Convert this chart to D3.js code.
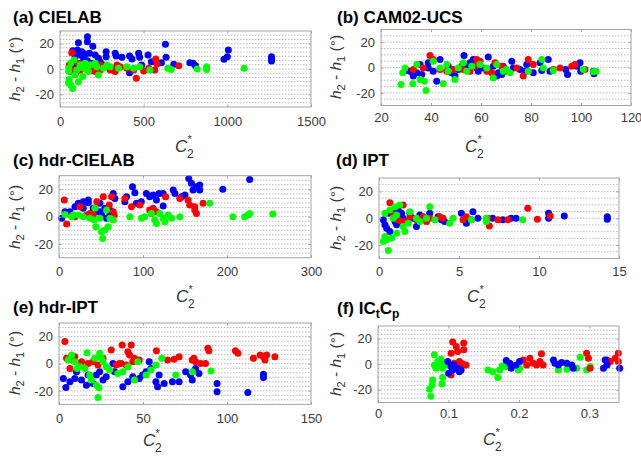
<!DOCTYPE html>
<html><head><meta charset="utf-8">
<script src="https://cdn.jsdelivr.net/npm/d3@7"></script>
<style>body{margin:0;background:#fff}svg{display:block}</style>
</head><body>
<svg id="chart" width="641" height="456"></svg>
<script>
// ---------- DATA (C2*, h2-h1) ----------
const a_blue = [[164,25.5],[164,21.6],[110,20.8],[196,18],[76,14.5],[104,15],[130,13.7],[150,11.8],[176,12.4],[120,11],[90,9.7],[140,8.4],[210,11],[230,8.4],[240,5.8],[276,13.7],[276,9.7],[330,12.4],[336,10.3],[370,9.2],[416,10.3],[430,7.9],[470,12.4],[476,9.2],[526,11],[546,5.8],[488,3.2],[606,5],[630,19.5],[634,9.2],[680,3.7],[776,5],[796,4.5],[810,2.6],[980,7.6],[1000,9.7],[1006,15],[1264,9.7],[1264,7.9],[1264,6.3],[320,0],[416,-2.9],[55,1.8],[60,3.2],[62,-2],[96,3.2],[164,6.6],[200,4.5],[260,3.2],[85,-1],[115,0.5]];
const a_red = [[70,12.9],[55,3.2],[80,-2],[120,-0.8],[160,0.5],[190,-1.3],[240,-0.8],[280,1.8],[300,-0.8],[340,3.2],[360,1.8],[400,0.5],[440,-0.8],[456,-7.4],[500,-1.6],[530,0.5],[566,-0.8],[572,7.9],[580,3.9],[710,2.6],[110,4.5],[150,1.8],[210,-2],[70,0.5],[240,3.2],[330,-2],[95,-3],[180,2]];
const a_green = [[50,-10.8],[55,-8.2],[76,-15.3],[64,-12.6],[110,-10],[136,-6],[230,-4.7],[66,5],[84,7.1],[120,3.2],[150,4.5],[180,3.2],[220,1.8],[260,0.5],[300,1.8],[350,0.5],[400,1.8],[440,0.5],[476,1.8],[536,-0.8],[644,0.5],[664,-0.3],[820,0],[876,1.8],[876,-0.3],[1100,0.5],[52,-2],[100,-0.8],[170,-2],[210,4.5],[280,3.2],[52,0.5],[90,-4.7],[156,-0.3],[130,1]];

const b_blue = [[30.3,-2.4],[32.9,-6.8],[35.6,2.4],[36.3,-5.5],[38.9,-0.3],[38.9,3.7],[43.6,6.3],[42.3,-10.8],[46.9,1],[48.3,-4.2],[49.6,-6.8],[53.2,9.5],[54.3,1],[55.6,3.7],[56.9,6.3],[58.9,-2.9],[60.9,-0.3],[62.9,8.2],[64.9,1],[66.3,-6.8],[66.9,-4.2],[69.6,-1.6],[72.3,5],[72.9,-0.3],[75.6,-1.6],[77.6,-2.9],[80.9,-4.2],[83.6,3.7],[84.3,-2.4],[86.9,6.3],[87.6,-2.9],[94.6,-5.5],[93.9,-1.6],[98.3,1],[99.6,3.7],[99.9,-2.9],[104.9,-2.9],[105.2,-5],[31.6,-2.9],[34.3,-4.2],[40.9,-2.9],[50.9,-1.6],[52.3,1],[58.3,-0.3],[62.9,-1.6],[68.3,-5.5],[68.9,1],[78.3,2.4]];
const b_red = [[39.6,9.5],[40.9,6.3],[46.3,-2.9],[48.9,-1.6],[52.9,-1.6],[57.6,1],[59.6,5],[62.3,-2.9],[65.6,3.7],[68.3,1],[70.3,-2.9],[74.3,-0.3],[76.9,-6.8],[78.9,6.3],[80.9,2.4],[88.9,-1.6],[91.6,-0.3],[96.3,1],[97.6,2.4],[101.6,-1.6],[32.9,-1.6],[36.9,-0.3],[43.6,-1.6],[55.6,-2.9],[64.3,-4.2],[58.3,6.3]];
const b_green = [[28,-13.4],[28.7,-4.2],[29.6,-0.3],[32.7,-12.9],[34.3,2.4],[35.6,-9.5],[37.3,-10.8],[38,-18.2],[40.9,5],[44.9,-12.9],[43.6,-0.3],[46.3,2.4],[49.6,-9.5],[50.9,-0.3],[54.3,-2.9],[56.3,1],[59.6,2.4],[64.9,-8.2],[66.3,2.4],[70.3,-1.6],[71.6,-4.2],[78.9,-2.9],[84.3,6.3],[84.9,-0.3],[88.9,-2.4],[100.9,-1.6],[106,-2.9],[105,-3.4],[46.9,-2.9],[52.9,3.7],[62.3,-0.3],[68.9,-2.9]];

const c_blue = [[3.2,-1.2],[7.1,3.7],[13,3.7],[19,7.3],[23,9.8],[28.9,11],[34.9,12.2],[34.9,10.2],[40.8,6.1],[45,3.7],[48.7,9.8],[50.7,1.2],[54.7,6.1],[56.6,-1.2],[60.6,4.9],[64.6,17],[66.5,13.4],[78.4,11],[80.4,14.6],[87.5,22],[90.3,17.6],[92.3,9.8],[98,11],[104,17],[108,14.6],[112,15.9],[116,12.2],[119,17],[124,7.8],[124,17],[136,19.5],[138,17],[146,14.6],[150,15.9],[154.5,28],[157.6,24.4],[159.6,19.5],[163.6,22],[167.5,23.2],[167.5,19.5],[195,20],[227,27.3],[28.9,6.1],[48.7,3.7],[60.6,1.2]];
const c_red = [[6.3,12.2],[9.1,-5.4],[25,7.3],[32.9,1.2],[45,11],[52.7,14.6],[59.8,8.5],[62.6,14.6],[64.6,3.7],[65.7,1.2],[78.4,13.4],[86.3,7.3],[96.2,8.5],[108,4.9],[112,6.1],[116,3.7],[110,2.4],[127,14.6],[143.8,13.4],[153.7,12.2],[155.6,8.5],[161.6,7.3],[161.6,4.9],[163.6,2.4],[171.5,9.8],[40.8,1.2],[19,0],[36.8,2.4]];
const c_green = [[7.1,1.7],[15,0],[23,1.2],[28.9,0],[36.8,-1.2],[41.9,-2.4],[43.9,-7.3],[48.7,-1.2],[50.7,-11],[52,-15.9],[54.7,-9.8],[58.6,-7.3],[56.6,4.9],[60.6,-1.2],[84.4,0],[98.2,-1.2],[102,0],[110,2.4],[114,-2.4],[116,-4.9],[120,2.4],[124,-1.2],[126,-3.7],[130,1.2],[134,-1.2],[143.8,0],[179.4,9.8],[207,0],[221,0],[225,1.2],[227,2.4],[254.7,2],[42.8,6.1],[17,1.2],[64.6,-2.4]];

const d_blue = [[0.27,-1.2],[0.37,-4.9],[0.48,-7.4],[0.68,-9.9],[0.58,3.7],[0.79,4.9],[1.0,-2.5],[1.1,-4.9],[1.2,6.2],[1.41,3.7],[1.51,0],[1.72,-2.5],[1.93,3.7],[2.14,0],[2.34,-6.2],[2.55,2.5],[2.76,0],[3.17,3.7],[3.69,1.2],[3.9,-1.2],[4.1,-2.5],[5.15,3.7],[5.46,-3.7],[5.77,-1.2],[5.87,4.9],[6.18,0],[7.1,0],[7.74,-1.2],[8.26,0],[8.57,0],[10.6,3.7],[10.6,0],[11.58,1.7],[14.27,1.2],[14.27,-0.7],[1.3,0],[0.9,1.2]];
const d_red = [[0.68,11.6],[0.89,2.5],[1.2,-1.2],[1.51,9.9],[1.72,-2.5],[1.93,1.2],[2.34,-1.2],[2.76,1.2],[2.97,-2.5],[3.8,1.2],[4.0,0],[5.25,-1.2],[5.46,1.2],[6.9,-5.7],[6.8,0],[7.43,-1.2],[8.05,-1.2],[9.3,7.4],[9.9,-0.7],[10.7,1.7],[1.1,0],[1.41,-2.5],[3.17,0]];
const d_green = [[0.27,-17.3],[0.37,-13.6],[0.48,-16],[0.58,-24],[0.79,-14.8],[1.1,-11.1],[1.62,-9.9],[0.37,3.7],[0.68,6.2],[1.0,8.6],[1.3,9.9],[1.1,2.5],[1.83,-3.7],[1.93,4.9],[2.34,0],[2.55,-2.5],[2.97,0],[3.17,8.6],[3.49,-1.2],[4.42,-3.7],[4.63,0],[5.77,-1.2],[6.7,0],[6.7,-2.5],[8.98,-1.2],[1.51,-6.2],[0.89,0]];

const e_red = [[3.5,16.3],[4.5,4],[6.5,-3.5],[7.5,2.7],[9.4,5.2],[13.4,1.5],[17.3,0.2],[20.3,1.5],[23.2,-1],[26.2,4],[31.1,10.1],[34.1,-1],[37,0.2],[37.6,13.8],[40,-1],[41,8.9],[42,6.4],[43,13.8],[43.9,1.5],[44.9,4],[47.8,2.7],[58,9.6],[64.6,2.7],[68.5,3.2],[71.5,5.2],[80.3,4],[81.3,1.5],[84.3,0.2],[87.2,0.2],[88.6,11.4],[89.2,9.6],[105,9.6],[106.5,7.7],[115.7,4],[119.7,6.4],[121.7,5.2],[122.6,2.7],[123.6,6.4],[128.5,5.2],[36,0.2],[79.3,2.7]];
const e_blue = [[4.1,-17.5],[6.5,-13.3],[9.4,-10.9],[10.4,-5.9],[13.4,-12.1],[16.3,-15.8],[17.3,-8.4],[20.3,-14.6],[22.2,-8.4],[24.2,-5.9],[26.2,-12.1],[28.1,-9.6],[32.1,0.2],[33.1,-5.9],[38,-17],[41,-13.3],[43.9,-9.6],[47.8,-10.9],[51.8,-5.9],[53.7,1.5],[54.7,-3.5],[57.7,-13.3],[58.7,-17],[59.6,-8.4],[62.6,-14.6],[67.5,-13.3],[71.5,-13.3],[75.4,-5.9],[78.3,-8.4],[79.3,-12.1],[81.3,-3.5],[83.3,-7.2],[94.1,-14.6],[94.1,-20.7],[112.4,-21.2],[121.7,-7.7],[121.7,-10.1],[2.6,-10.9],[49.8,-8.4]];
const e_green = [[5.5,2.7],[7.5,6.4],[9.4,1.5],[10.8,-3.5],[15.4,-3.5],[16.7,8.1],[18.3,-8.4],[19.3,-12.1],[22.2,-15.8],[23.8,-17.8],[23.2,-24.9],[24.2,7.7],[25.2,4],[26.2,1.5],[28.1,-2.2],[30.1,-4.7],[35,-7.2],[38,-5.9],[41,-2.2],[44.9,-12.1],[46.9,1.5],[51.8,-8.4],[54.7,-4.7],[57.7,-1],[61.2,4],[69.5,-8.4],[79.3,-5.9],[90.5,-5.4],[21.3,4],[12.4,-2.2]];

const f_green = [[0.075,-25],[0.073,-19.7],[0.0766,-16.3],[0.0775,-12.4],[0.08,7.4],[0.08,-0.5],[0.0846,2.1],[0.087,-1.8],[0.0894,3.9],[0.0918,-3.2],[0.0908,-15.5],[0.0918,-10.3],[0.094,0.8],[0.0965,-0.5],[0.156,-4.5],[0.163,-5.8],[0.17,-10.3],[0.1726,-4.5],[0.176,-1.3],[0.182,-1.8],[0.189,-0.5],[0.1988,-4.5],[0.201,-3.2],[0.256,-4.5],[0.268,-3.9],[0.282,-3.2],[0.287,5.5],[0.296,-4.5],[0.301,-1.8],[0.0823,-3.2]];
const f_red = [[0.106,17.4],[0.111,13.9],[0.1037,8.7],[0.113,10],[0.1217,16.6],[0.1217,11.3],[0.1037,-8.4],[0.108,0.8],[0.1155,2.1],[0.12,0.3],[0.125,-0.5],[0.206,3.4],[0.211,-0.5],[0.2154,4.7],[0.22,0.8],[0.225,-0.5],[0.2297,2.1],[0.232,8.2],[0.2344,-0.5],[0.296,8.7],[0.2986,4.7],[0.301,-3.2],[0.325,3.4],[0.3295,2.1],[0.3367,4.7],[0.341,8.7],[0.341,2.1]];
const f_blue = [[0.099,2.1],[0.1003,-7.1],[0.1037,-1.8],[0.106,-4.5],[0.108,-0.5],[0.113,-3.2],[0.118,-4.5],[0.1155,-5.8],[0.182,2.9],[0.187,0.8],[0.189,-3.2],[0.196,-0.5],[0.201,2.1],[0.249,3.4],[0.251,0.8],[0.256,-0.5],[0.2606,1.3],[0.268,0.8],[0.275,-0.5],[0.277,-3.2],[0.3224,3.4],[0.32,-3.2],[0.325,-0.5],[0.343,-3.2]];

const titles = ["(a) CIELAB","(b) CAM02-UCS","(c) hdr-CIELAB","(d) IPT","(e) hdr-IPT","(f) IC|t|C|p"];
const xTickValues = [[0,500,1000,1500],[20,40,60,80,100,120],[0,100,200,300],[0,5,10,15],[0,50,100,150],[0,0.1,0.2,0.3]];
const xTickLabels = [["0","500","1000","1500"],["20","40","60","80","100","120"],["0","100","200","300"],["0","5","10","15"],["0","50","100","150"],["0","0.1","0.2","0.3"]];
const yTickValues = [-20,0,20];
const yTickLabels = ["-20","0","20"];
const xDomains = [[0,1500],[20,120],[0,300],[0,15],[0,150],[0,0.342]];
const yDomain = [-30,30];
const seriesColors = {blue:"#0000ff", red:"#ff0000", green:"#00ff00"};

// ---------- LAYOUT ----------
const panelData = [
  {blue:a_blue, red:a_red, green:a_green, order:["blue","red","green"]},
  {blue:b_blue, red:b_red, green:b_green, order:["blue","red","green"]},
  {blue:c_blue, red:c_red, green:c_green, order:["blue","red","green"]},
  {blue:d_blue, red:d_red, green:d_green, order:["blue","red","green"]},
  {blue:e_blue, red:e_red, green:e_green, order:["blue","red","green"]},
  {blue:f_blue, red:f_red, green:f_green, order:["green","red","blue"]}
];
const layout = [
  {x0:60, x1:311, y0:31, y1:107, grid:18, tx:13, ty:23, ylx:20, yly:69, xlx:175, xly:152, tb:126},
  {x0:381, x1:631, y0:29.5, y1:105.5, grid:12, tx:337, ty:23, ylx:341, yly:67, xlx:465, xly:152, tb:122},
  {x0:59, x1:311, y0:175.7, y1:257.7, grid:18, tx:13, ty:166, ylx:20, yly:217, xlx:176, xly:302, tb:276},
  {x0:379, x1:619, y0:178, y1:258.5, grid:12, tx:336, ty:166, ylx:341, yly:218, xlx:467, xly:302, tb:276},
  {x0:59, x1:311, y0:323, y1:404.4, grid:18, tx:13, ty:313, ylx:20, yly:363, xlx:143, xly:446, tb:423},
  {x0:378, x1:619, y0:326, y1:402.5, grid:18, tx:337, ty:314, ylx:341, yly:364, xlx:483, xly:445, tb:418}
];

const FONT = "'Liberation Sans', Arial, Helvetica, sans-serif";
const svg = d3.select("#chart");
svg.append("rect").attr("width",641).attr("height",456).attr("fill","#fff");

const boxColor = "#a3a3a3", tickText = "#3a3a3a";

layout.forEach((L, i) => {
  const g = svg.append("g");
  const x = d3.scaleLinear().domain(xDomains[i]).range([L.x0, L.x1]);
  const y = d3.scaleLinear().domain(yDomain).range([L.y1, L.y0]);

  g.append("rect").attr("x",L.x0).attr("y",L.y0).attr("width",L.x1-L.x0).attr("height",L.y1-L.y0).attr("fill","#fff");

  const step = (yDomain[1]-yDomain[0]) / L.grid;
  const gv = d3.range(1, L.grid).map(k => yDomain[0] + k*step);
  g.append("g").selectAll("line").data(gv).join("line")
    .attr("x1",L.x0).attr("x2",L.x1)
    .attr("y1",d=>y(d)).attr("y2",d=>y(d))
    .attr("stroke","#b4b4b4").attr("stroke-width",0.9).attr("stroke-dasharray","1.5,1.5");

  const P = panelData[i];
  P.order.forEach(s => {
    g.append("g").selectAll("circle").data(P[s]).join("circle")
      .attr("cx",d=>x(d[0])).attr("cy",d=>y(d[1])).attr("r",3.5)
      .attr("fill",seriesColors[s]);
  });

  const tb = L.tb - L.y1 - 9.2;
  const xb = g.append("g").attr("transform",`translate(0,${L.y1})`)
    .call(d3.axisBottom(x).tickValues(xTickValues[i]).tickFormat((d,k)=>xTickLabels[i][k]).tickSize(-2.5).tickPadding(tb));
  const xt = g.append("g").attr("transform",`translate(0,${L.y0})`)
    .call(d3.axisTop(x).tickValues(xTickValues[i]).tickFormat("").tickSize(-2.5));
  const yl = g.append("g").attr("transform",`translate(${L.x0},0)`)
    .call(d3.axisLeft(y).tickValues(yTickValues).tickFormat((d,k)=>yTickLabels[k]).tickSize(-2.5).tickPadding(6));
  const yr = g.append("g").attr("transform",`translate(${L.x1},0)`)
    .call(d3.axisRight(y).tickValues(yTickValues).tickFormat("").tickSize(-2.5));
  [xb,xt,yl,yr].forEach(a => {
    a.select(".domain").remove();
    a.selectAll(".tick line").attr("stroke",boxColor);
    a.selectAll("text").attr("fill",tickText).style("font-family",FONT).style("font-size","13px");
  });

  g.append("rect").attr("x",L.x0).attr("y",L.y0).attr("width",L.x1-L.x0).attr("height",L.y1-L.y0)
    .attr("fill","none").attr("stroke",boxColor).attr("stroke-width",1);

  const t = svg.append("text").attr("x",L.tx).attr("y",L.ty)
    .style("font-family",FONT).style("font-weight","bold").style("font-size","17px").attr("fill","#000");
  const parts = titles[i].split("|");
  parts.forEach((p, k) => {
    const sub = k % 2 === 1;
    t.append("tspan").text(p)
      .attr("dy", sub ? 4 : (k>0 ? -4 : 0))
      .style("font-size", sub ? "12px" : "17px");
  });

  const ylab = svg.append("text")
    .attr("transform",`translate(${L.ylx},${L.yly}) rotate(-90)`)
    .attr("text-anchor","middle").style("font-family",FONT).style("font-size","15.5px").attr("fill","#333");
  ylab.append("tspan").text("h").style("font-style","italic");
  ylab.append("tspan").text("2").attr("dy",4).style("font-size","11px");
  ylab.append("tspan").text(" - ").attr("dy",-4);
  ylab.append("tspan").text("h").style("font-style","italic");
  ylab.append("tspan").text("1").attr("dy",4).style("font-size","11px");
  ylab.append("tspan").text(" (°)").attr("dy",-4);

  svg.append("text").attr("x",L.xlx).attr("y",L.xly).text("C")
    .style("font-family",FONT).style("font-style","italic").style("font-size","17px").attr("fill","#333");
  svg.append("text").attr("x",L.xlx+12).attr("y",L.xly+6).text("2")
    .style("font-family",FONT).style("font-size","12px").attr("fill","#333");
  svg.append("text").attr("x",L.xlx+12.5).attr("y",L.xly-9).text("*")
    .style("font-family",FONT).style("font-size","11px").attr("fill","#333");
});
</script>
</body></html>
